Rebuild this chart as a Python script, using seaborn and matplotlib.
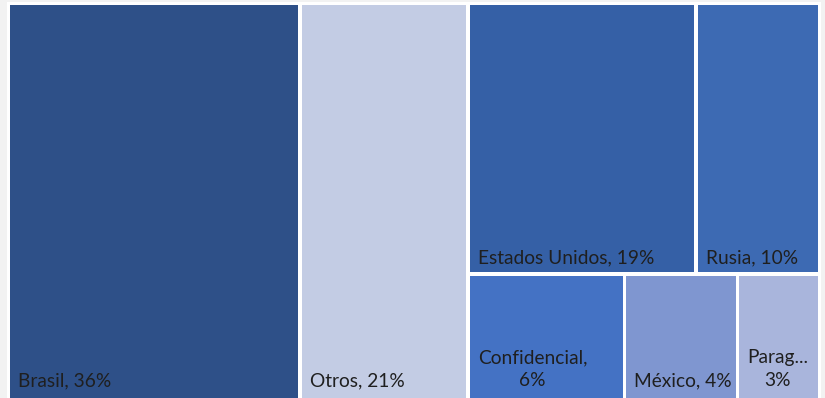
import matplotlib
matplotlib.use("Agg")
import matplotlib.pyplot as plt
from matplotlib.patches import Rectangle
import seaborn as sns

# Share of total by origin (percent)
paises = ["Brasil", "Otros", "Estados Unidos", "Rusia", "Confidencial", "México", "Paraguay"]
valores = [35.9, 20.7, 19.2, 10.4, 6.1, 4.4, 3.2]
etiquetas = ["Brasil, 36%", "Otros, 21%", "Estados Unidos, 19%", "Rusia, 10%",
             "Confidencial,\n6%", "México, 4%", "Parag...\n3%"]
colores = ["#2e5088", "#c3cce4", "#3560a6", "#3d6ab3", "#4472c4", "#7f96d0", "#a9b5dc"]

# Slice-and-dice nesting: h = split along x, v = split along y (top first)
estructura = ("h", [0, 1, ("v", [("h", [2, 3]), ("h", [4, 5, 6])])])


def total(nodo):
    if isinstance(nodo, int):
        return valores[nodo]
    return sum(total(n) for n in nodo[1])


def disponer(nodo, x, y, w, h, out):
    if isinstance(nodo, int):
        out[nodo] = (x, y, w, h)
        return
    modo, hijos = nodo
    t = total(nodo)
    if modo == "h":
        cx = x
        for hijo in hijos:
            ww = w * total(hijo) / t
            disponer(hijo, cx, y, ww, h, out)
            cx += ww
    else:
        cy = y + h
        for hijo in hijos:
            hh = h * total(hijo) / t
            disponer(hijo, x, cy - hh, w, hh, out)
            cy -= hh


sns.set_theme(style="white")
plt.rcParams["font.family"] = ["Lato", "DejaVu Sans"]

W_PX, H_PX = 825, 398
fig = plt.figure(figsize=(W_PX / 100, H_PX / 100), dpi=100)
fig.patch.set_facecolor("#f2f2f2")

# white plotting frame, 1 data unit = 1 pixel
x0, x1, y_top, y_bot = 7, 821, 1.5, 401
ax = fig.add_axes([x0 / W_PX, (H_PX - y_bot) / H_PX, (x1 - x0) / W_PX, (y_bot - y_top) / H_PX])
AW, AH = x1 - x0, y_bot - y_top
ax.set_xlim(0, AW)
ax.set_ylim(0, AH)
ax.set_facecolor("white")
ax.set_axis_off()
ax.add_patch(Rectangle((0, 0), AW, AH, facecolor="white", edgecolor="none", zorder=0))

pad = 1.3
gap = 3.6
rects = {}
disponer(estructura, pad, pad, AW - 2 * pad, AH - 2 * pad, rects)

for i in range(len(valores)):
    x, y, w, h = rects[i]
    x += gap / 2
    y += gap / 2
    w -= gap
    h -= gap
    ax.add_patch(Rectangle((x, y), w, h, facecolor=colores[i], edgecolor="none", zorder=1))
    base = y + 12 if i in (0, 1, 4, 5, 6) else y + 9
    ax.text(x + 8, base, etiquetas[i],
            ha="left", va="baseline", multialignment="center",
            fontsize=13.8, color="#1f1f1f", zorder=2, linespacing=1.4)

fig.savefig("out.png", dpi=100, facecolor=fig.get_facecolor())
